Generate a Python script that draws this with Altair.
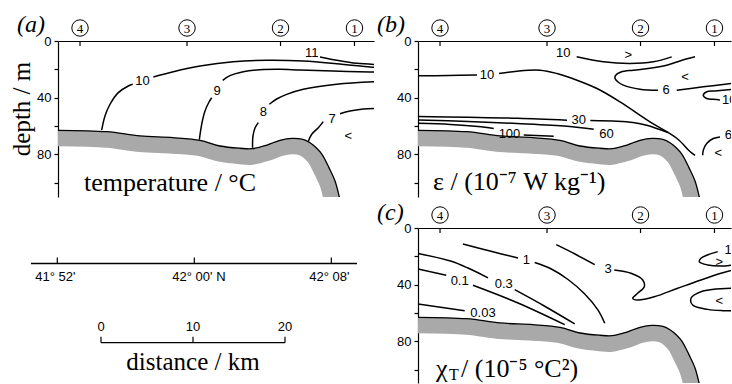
import altair as alt
import pandas as pd

# ---------------- scales of the section (km along section, depth in m) ----------------
PX_PER_KM = 9.176
PX_PER_M = 1.415

station_km = [2.40, 14.06, 24.25, 32.31]
station_num = ["4", "3", "2", "1"]
depth_ticks = [0, 20, 40, 60, 80, 100]

# seabed (top edge of shaded band) and centre line of the shaded band
seabed_km = [0.00, 5.31, 8.94, 12.53, 15.48, 17.65, 19.83, 21.14, 22.78, 24.19, 25.50,
             26.70, 27.46, 28.17, 28.77, 29.53, 30.19, 30.68, 30.90]
seabed_m = [63.1, 64.1, 67.1, 68.3, 70.2, 74.2, 75.8, 76.1, 73.5, 70.2, 68.8,
            69.6, 71.9, 75.6, 80.1, 89.5, 98.9, 110.7, 116.6]
band_km = [0.00, 5.31, 8.94, 12.53, 15.48, 17.65, 19.83, 21.14, 22.78, 24.19, 25.50,
           26.49, 26.99, 27.56, 28.04, 28.75, 29.37, 29.84, 30.05]
band_m = [68.8, 69.8, 72.8, 74.0, 75.8, 79.7, 81.5, 81.8, 79.2, 75.8, 74.4,
          75.1, 76.7, 79.7, 83.1, 92.0, 100.8, 112.2, 117.9]

# ---------------- (a) temperature contours ----------------
temp_segments = {
    "10a": ([4.76, 5.12, 5.67, 6.57, 7.66, 8.14], [63.0, 53.0, 44.7, 36.5, 31.8, 30.6]),
    "10b": ([10.39, 12.57, 15.48, 19.10, 22.74, 26.73, 30.37, 34.00, 34.6],
            [25.4, 21.7, 17.7, 14.6, 13.6, 14.1, 16.0, 18.4, 18.6]),
    "9a": ([15.40, 15.69, 16.02, 16.46, 16.75], [69.8, 57.9, 49.5, 43.1, 40.1]),
    "9b": ([17.95, 18.74, 20.19, 22.01, 24.19, 26.37, 29.97, 34.00, 34.6],
           [27.8, 24.5, 21.7, 20.3, 20.0, 20.5, 21.2, 21.9, 22.0]),
    "11": ([28.55, 30.37, 32.55, 34.55], [11.3, 13.6, 15.8, 16.6]),
    "8a": ([21.20, 21.25, 21.47, 21.83], [75.5, 67.1, 61.5, 57.7]),
    "8b": ([23.03, 23.83, 24.92, 26.73, 30.37, 34.55], [44.7, 41.0, 37.7, 34.1, 30.6, 28.8]),
    "7a": ([27.28, 27.65, 28.37, 28.91], [71.0, 65.9, 61.3, 57.0]),
    "7b": ([30.73, 31.82, 33.27, 34.55], [51.4, 49.5, 48.1, 47.6]),
}
temp_label_text = ["10", "9", "11", "8", "7"]
temp_label_km = [9.21, 17.33, 27.65, 22.37, 29.86]
temp_label_m = [28.3, 35.3, 8.8, 50.2, 55.1]
temp_marker_text = ["<"]
temp_marker_km = [31.64]
temp_marker_m = [67.1]

# ---------------- (b) dissipation contours ----------------
eps_segments = {
    "10a": ([0.0, 3.27, 6.43], [24.6, 24.4, 24.0]),
    "10b": ([8.83, 10.79, 13.30, 15.15, 17.33, 19.51, 22.01, 25.28, 28.23, 29.64, 30.19],
            [23.0, 21.3, 20.6, 23.0, 27.7, 33.6, 43.0, 57.1, 68.9, 78.1, 80.9]),
    "10top": ([17.29, 20.19, 23.10, 25.64, 27.65], [11.2, 14.7, 15.9, 14.7, 11.2]),
    "6a": ([30.19, 28.55, 27.10, 25.28, 23.46, 22.12, 21.52, 21.47, 21.80, 22.37, 24.19, 26.16],
           [11.2, 14.1, 17.1, 19.3, 20.6, 21.9, 24.4, 26.5, 29.0, 31.2, 34.1, 34.8]),
    "6b": ([28.19, 31.09, 34.19], [34.8, 32.4, 30.0]),
    "10right": ([34.22, 32.37, 31.46, 31.09, 31.46, 32.55, 32.91],
                [34.3, 35.3, 35.9, 38.3, 40.6, 41.3, 41.8]),
    "6low": ([32.91, 32.18, 31.46, 31.09, 31.03], [67.8, 68.9, 72.4, 77.2, 80.7]),
    "30a": ([0.0, 5.45, 10.90, 16.24], [53.4, 53.9, 54.6, 56.0]),
    "30b": ([18.78, 21.69, 23.43, 24.92, 27.25], [56.2, 56.7, 57.6, 59.5, 64.7]),
    "60": ([0.0, 5.45, 10.79, 16.24, 19.15], [55.8, 56.9, 58.3, 60.2, 62.3]),
    "100a": ([0.0, 3.52, 6.54, 8.25], [58.2, 59.0, 60.4, 61.8]),
    "100b": ([11.52, 14.79], [66.5, 67.3]),
}
eps_label_text = ["10", "10", "6", "10", "6", "30", "60", "100"]
eps_label_km = [7.52, 15.83, 27.03, 33.93, 33.82, 17.51, 20.54, 9.97]
eps_label_m = [23.7, 8.8, 34.3, 41.8, 66.6, 55.5, 65.6, 65.9]
eps_marker_text = [">", "<", "<"]
eps_marker_km = [22.92, 29.10, 32.73]
eps_marker_m = [10.0, 25.3, 79.5]

# ---------------- (c) temperature variance dissipation contours ----------------
chi_segments = {
    "1a": ([4.90, 7.85, 10.90], [11.3, 16.3, 21.2]),
    "1b": ([12.72, 14.53, 16.35, 18.17, 19.62, 20.35], [24.4, 29.0, 36.4, 46.6, 58.0, 67.3]),
    "3a": ([15.07, 17.11, 19.26], [11.8, 18.4, 25.9]),
    "3b": ([21.39, 23.21, 24.49, 24.66, 23.94, 23.40, 23.94, 25.75, 28.30, 30.84, 33.02, 34.33],
           [29.7, 32.0, 36.7, 41.5, 46.1, 49.7, 50.9, 48.6, 42.6, 36.7, 32.0, 29.7]),
    "0.3a": ([0.0, 3.63, 5.45, 7.63], [18.0, 23.5, 28.3, 35.3]),
    "0.3b": ([10.54, 13.81, 17.08], [43.6, 55.3, 67.8]),
    "0.1a": ([0.0, 3.08], [29.0, 33.4]),
    "0.1b": ([5.99, 10.90, 15.99], [40.5, 53.0, 68.3]),
    "0.03": ([0.0, 5.09], [53.7, 58.4]),
    "10": ([32.66, 31.60, 30.84, 30.66, 31.57, 33.02, 34.33], [16.7, 18.9, 21.4, 23.8, 26.1, 26.9, 26.1]),
    "low": ([34.33, 30.84, 29.75, 29.94, 31.57, 33.21, 34.44], [42.6, 45.0, 49.7, 54.4, 57.5, 58.4, 58.4]),
}
chi_label_text = ["1", "3", "0.3", "0.1", "0.03", "10"]
chi_label_km = [11.80, 20.71, 9.34, 4.54, 7.08, 34.2]
chi_label_m = [22.8, 28.8, 39.6, 37.2, 60.1, 15.5]
chi_marker_text = [">", "<"]
chi_marker_km = [32.84, 32.84]
chi_marker_m = [23.8, 51.4]

# ---------------- latitude axis and distance scale ----------------
lat_tick_min = [52, 60, 68]          # minutes: 52 -> 41°52', 60 -> 42°00', 68 -> 42°08'
lat_tick_label = ["41° 52'", "42° 00' N", "42° 08'"]
lat_line_min = [50.46, 69.5]
scale_km = [0, 10, 20]

SANS = "Liberation Sans"
SERIF = "Liberation Serif"

W_A, W_B = 316, 313
H_1, H_2 = 156, 155


def seg_frame(segs):
    rows = []
    for name, (xs, ys) in segs.items():
        for i, (x, y) in enumerate(zip(xs, ys)):
            rows.append({"seg": name, "i": i, "km": x, "m": y})
    return pd.DataFrame(rows)


def txt(s):
    return pd.DataFrame({"t": [s]})


def panel(width, height, segs, lab_t, lab_x, lab_y, mk_t, mk_x, mk_y, letter, letter_y, title_layers):
    xs = alt.Scale(domain=[0, width / PX_PER_KM], nice=False, zero=False)
    ys = alt.Scale(domain=[0, height / PX_PER_M], nice=False, zero=False, reverse=True)
    top_axis = alt.Axis(orient="top", labels=False, ticks=False, title=None, grid=False,
                        domainColor="black", domainWidth=1.2)
    left_axis = alt.Axis(orient="left", values=depth_ticks,
                         labelExpr="datum.value % 40 === 0 ? datum.label : ''",
                         tickSize=4, tickColor="black", tickWidth=1.2, labelPadding=3,
                         labelFont=SANS, labelFontSize=13, labelColor="black", title=None,
                         grid=False, domainColor="black", domainWidth=1.2)

    def X(f="km"):
        return alt.X(f"{f}:Q", scale=xs, axis=top_axis)

    def Y(f="m"):
        return alt.Y(f"{f}:Q", scale=ys, axis=left_axis)

    band_df = pd.DataFrame({"km": band_km, "m": band_m, "i": range(len(band_km))})
    seabed_df = pd.DataFrame({"km": seabed_km, "m": seabed_m, "i": range(len(seabed_km))})
    band = alt.Chart(band_df).mark_line(color="#a9a9a9", strokeWidth=16, clip=True,
                                        interpolate="catmull-rom", strokeCap="butt").encode(
        x=X(), y=Y(), order="i:Q")
    seabed = alt.Chart(seabed_df).mark_line(color="black", strokeWidth=1.3, clip=True,
                                            interpolate="catmull-rom").encode(
        x=X(), y=Y(), order="i:Q")
    lines = alt.Chart(seg_frame(segs)).mark_line(color="black", strokeWidth=1.5, clip=True,
                                                 interpolate="catmull-rom").encode(
        x=X(), y=Y(), detail="seg:N", order="i:Q")
    labels = alt.Chart(pd.DataFrame({"t": lab_t, "km": lab_x, "m": lab_y})).mark_text(
        font=SANS, fontSize=13, color="black", clip=True, baseline="middle").encode(
        x=X(), y=Y(), text="t:N")
    markers = alt.Chart(pd.DataFrame({"t": mk_t, "km": mk_x, "m": mk_y})).mark_text(
        font=SANS, fontSize=13, color="black", clip=True, baseline="middle").encode(
        x=X(), y=Y(), text="t:N")
    st_df = pd.DataFrame({"km": station_km, "n": station_num})
    st_ticks = alt.Chart(st_df).mark_rule(color="black", strokeWidth=1.2).encode(
        x=X(), y=alt.value(0), y2=alt.value(5))
    st_circ = alt.Chart(st_df).mark_point(shape="circle", filled=False, size=270, color="black",
                                          strokeWidth=1, opacity=1).encode(
        x=X(), y=alt.value(-13))
    st_num = alt.Chart(st_df).mark_text(font=SERIF, fontSize=13, color="black",
                                        baseline="middle").encode(
        x=X(), y=alt.value(-12.5), text="n:N")
    let = alt.Chart(txt(letter)).mark_text(font=SERIF, fontSize=24, fontStyle="italic",
                                           align="left", baseline="middle", color="black").encode(
        x=alt.value(-41), y=alt.value(letter_y), text="t:N")
    layers = [band, seabed, lines, labels, markers, st_ticks, st_circ, st_num, let] + title_layers
    return alt.layer(*layers).properties(width=width, height=height)


def serif_text(s, x, y, size=26, align="left"):
    return alt.Chart(txt(s)).mark_text(font=SERIF, fontSize=size, align=align,
                                       baseline="middle", color="black").encode(
        x=alt.value(x), y=alt.value(y), text="t:N")


depth_title = alt.Chart(txt("depth / m")).mark_text(
    font=SERIF, fontSize=25, angle=270, align="center", baseline="middle", color="black").encode(
    x=alt.value(-36), y=alt.value(68), text="t:N")

pa = panel(W_A, H_1, temp_segments, temp_label_text, temp_label_km, temp_label_m,
           temp_marker_text, temp_marker_km, temp_marker_m, "(a)", -16,
           [serif_text("temperature / °C", 26, 142), depth_title])

pb = panel(W_B, H_1, eps_segments, eps_label_text, eps_label_km, eps_label_m,
           eps_marker_text, eps_marker_km, eps_marker_m, "(b)", -16,
           [serif_text("ε / (10⁻⁷ W  kg⁻¹)", 15, 141)])

pc = panel(W_B, H_2, chi_segments, chi_label_text, chi_label_km, chi_label_m,
           chi_marker_text, chi_marker_km, chi_marker_m, "(c)", -15,
           [serif_text("χ", 18, 141), serif_text("T", 31, 147, size=16),
            serif_text("/ (10⁻⁵ °C²)", 43, 141)])

# bottom-left: latitude axis and distance scale bar
lat_scale = alt.Scale(domain=[52.04, 52.04 + W_A / 17.125], nice=False, zero=False)
km_scale = alt.Scale(domain=[-4.674, -4.674 + W_A / 9.2], nice=False, zero=False)
lat_df = pd.DataFrame({"lat": lat_tick_min, "label": lat_tick_label})
lat_line = alt.Chart(pd.DataFrame({"a": [lat_line_min[0]], "b": [lat_line_min[1]]})).mark_rule(
    color="black", strokeWidth=1.3).encode(
    x=alt.X("a:Q", scale=lat_scale, axis=None), x2="b:Q", y=alt.value(35.5))
lat_ticks = alt.Chart(lat_df).mark_rule(color="black", strokeWidth=1.2).encode(
    x=alt.X("lat:Q", scale=lat_scale, axis=None), y=alt.value(29.5), y2=alt.value(35.5))
lat_labels = alt.Chart(lat_df).mark_text(font=SANS, fontSize=13, align="left", dx=-22,
                                         baseline="middle", color="black").encode(
    x=alt.X("lat:Q", scale=lat_scale, axis=None), y=alt.value(49), text="label:N")
sb_df = pd.DataFrame({"km": scale_km, "label": [str(v) for v in scale_km]})
sb_line = alt.Chart(pd.DataFrame({"a": [scale_km[0]], "b": [scale_km[-1]]})).mark_rule(
    color="black", strokeWidth=1.3).encode(
    x=alt.X("a:Q", scale=km_scale, axis=None), x2="b:Q", y=alt.value(114.7))
sb_ticks = alt.Chart(sb_df).mark_rule(color="black", strokeWidth=1.2).encode(
    x=alt.X("km:Q", scale=km_scale, axis=None), y=alt.value(108.7), y2=alt.value(114.7))
sb_labels = alt.Chart(sb_df).mark_text(font=SANS, fontSize=13, baseline="middle",
                                       color="black").encode(
    x=alt.X("km:Q", scale=km_scale, axis=None), y=alt.value(99), text="label:N")
sb_title = alt.Chart(pd.DataFrame({"km": [scale_km[1]], "t": ["distance / km"]})).mark_text(
    font=SERIF, fontSize=25, baseline="middle", color="black").encode(
    x=alt.X("km:Q", scale=km_scale, axis=None), y=alt.value(134), text="t:N")

pbl = alt.layer(lat_line, lat_ticks, lat_labels, sb_line, sb_ticks, sb_labels, sb_title).resolve_scale(
    x="independent").properties(width=W_A, height=H_2)

chart = alt.concat(pa, pb, pbl, pc, columns=2, spacing={"row": 31, "column": 44},
                   bounds="flush", align="each").properties(
    autosize=alt.AutoSizeParams(type="none"),
    padding={"left": 58, "top": 41, "right": 674, "bottom": 343},
    background="white",
).configure_view(stroke=None)

chart.save("out.html", embed_options={"renderer": "svg", "actions": False})
